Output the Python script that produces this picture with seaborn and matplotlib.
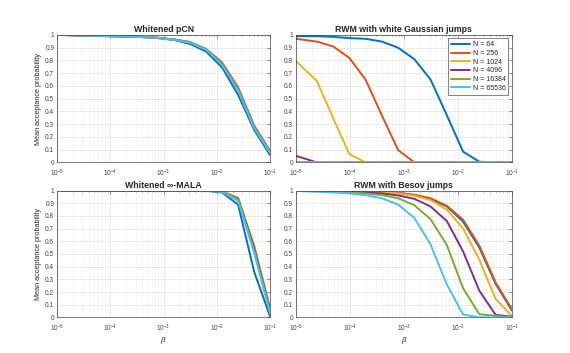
import numpy as np
import pandas as pd
import seaborn as sns
import matplotlib.pyplot as plt
from matplotlib.ticker import LogLocator, NullFormatter

# Schrittweiten beta = 0.1 / 2^k
betas = 0.1 / 2.0 ** np.arange(15)
dims = [64, 256, 1024, 4096, 16384, 65536]
colors = ["#0072BD", "#D95319", "#EDB120", "#7E2F8E", "#77AC30", "#4DBEEE"]
ytick_labels = ["0", "0.1", "0.2", "0.3", "0.4", "0.5", "0.6", "0.7", "0.8", "0.9", "1"]

# Whitened pCN (k = 0..13)
pcn = {
    64:    [0.057, 0.255, 0.53, 0.745, 0.87, 0.93, 0.96, 0.975, 0.983, 0.986, 0.99, 0.993, 0.996, 1.0],
    256:   [0.09, 0.29, 0.59, 0.785, 0.89, 0.945, 0.965, 0.978, 0.985, 0.99, 0.992, 0.995, 0.997, 1.0],
    1024:  [0.085, 0.285, 0.58, 0.78, 0.888, 0.944, 0.964, 0.977, 0.985, 0.989, 0.992, 0.995, 0.997, 1.0],
    4096:  [0.08, 0.28, 0.575, 0.775, 0.886, 0.942, 0.963, 0.977, 0.984, 0.988, 0.991, 0.994, 0.997, 1.0],
    16384: [0.078, 0.275, 0.57, 0.77, 0.885, 0.941, 0.962, 0.976, 0.984, 0.988, 0.991, 0.994, 0.997, 1.0],
    65536: [0.075, 0.27, 0.565, 0.765, 0.884, 0.94, 0.962, 0.976, 0.984, 0.988, 0.991, 0.994, 0.997, 1.0],
}

# RWM mit weissen Gauss-Spruengen (k = 0..14)
rwm_white = {
    64:    [0.0, 0.0, 0.005, 0.084, 0.37, 0.65, 0.81, 0.90, 0.948, 0.97, 0.975, 0.985, 0.99, 0.99, 0.995],
    256:   [0.0, 0.0, 0.0, 0.0, 0.0, 0.0, 0.0, 0.097, 0.37, 0.65, 0.82, 0.91, 0.948, 0.965, 0.98],
    1024:  [0.0, 0.0, 0.0, 0.0, 0.0, 0.0, 0.0, 0.0, 0.0, 0.0, 0.065, 0.35, 0.64, 0.76, 0.885],
    4096:  [0.0, 0.0, 0.0, 0.0, 0.0, 0.0, 0.0, 0.0, 0.0, 0.0, 0.0, 0.0, 0.0, 0.04, 0.08],
    16384: [0.0] * 15,
    65536: [0.0] * 15,
}

# Whitened infinity-MALA (k = 0..13)
mala = {
    64:    [0.005, 0.36, 0.89, 0.985, 1.0, 1.0, 1.0, 1.0, 1.0, 1.0, 1.0, 1.0, 1.0, 1.0],
    256:   [0.07, 0.56, 0.94, 0.995, 1.0, 1.0, 1.0, 1.0, 1.0, 1.0, 1.0, 1.0, 1.0, 1.0],
    1024:  [0.06, 0.57, 0.945, 0.995, 1.0, 1.0, 1.0, 1.0, 1.0, 1.0, 1.0, 1.0, 1.0, 1.0],
    4096:  [0.05, 0.55, 0.935, 0.99, 1.0, 1.0, 1.0, 1.0, 1.0, 1.0, 1.0, 1.0, 1.0, 1.0],
    16384: [0.04, 0.53, 0.93, 0.99, 1.0, 1.0, 1.0, 1.0, 1.0, 1.0, 1.0, 1.0, 1.0, 1.0],
    65536: [0.03, 0.51, 0.92, 0.99, 1.0, 1.0, 1.0, 1.0, 1.0, 1.0, 1.0, 1.0, 1.0, 1.0],
}

# RWM mit Besov-Spruengen (k = 0..13)
besov = {
    64:    [0.055, 0.265, 0.55, 0.755, 0.875, 0.935, 0.965, 0.98, 0.99, 0.993, 0.995, 0.997, 0.998, 0.999],
    256:   [0.065, 0.275, 0.565, 0.77, 0.88, 0.94, 0.968, 0.982, 0.99, 0.993, 0.995, 0.997, 0.998, 0.999],
    1024:  [0.01, 0.145, 0.455, 0.70, 0.85, 0.925, 0.96, 0.978, 0.988, 0.992, 0.995, 0.997, 0.998, 0.999],
    4096:  [0.005, 0.02, 0.21, 0.52, 0.76, 0.875, 0.935, 0.962, 0.978, 0.985, 0.99, 0.995, 0.997, 0.999],
    16384: [0.0, 0.012, 0.025, 0.23, 0.57, 0.775, 0.885, 0.94, 0.965, 0.978, 0.986, 0.99, 0.995, 0.998],
    65536: [0.0, 0.0, 0.0, 0.022, 0.26, 0.575, 0.785, 0.89, 0.94, 0.965, 0.978, 0.986, 0.992, 0.995],
}


def to_long(values):
    rows = []
    for n in dims:
        for b, v in zip(betas, values[n]):
            rows.append({"beta": b, "acc": v, "N": f"N = {n}"})
    return pd.DataFrame(rows)


sns.set_theme(style="white")
plt.rcParams["font.family"] = ["Liberation Sans", "DejaVu Sans"]
plt.rcParams["mathtext.fontset"] = "custom"
plt.rcParams["mathtext.rm"] = "Liberation Sans"
plt.rcParams["mathtext.it"] = "Liberation Sans:italic"

fig = plt.figure(figsize=(5.7, 3.53), dpi=100)
positions = [
    [0.100, 0.540, 0.374, 0.361],
    [0.519, 0.540, 0.379, 0.361],
    [0.100, 0.101, 0.374, 0.359],
    [0.519, 0.101, 0.379, 0.359],
]
panels = [
    ("Whitened pCN", pcn),
    ("RWM with white Gaussian jumps", rwm_white),
    ("Whitened \u221e-MALA", mala),
    ("RWM with Besov jumps", besov),
]
hue_order = [f"N = {n}" for n in dims]

for i, ((title, vals), pos) in enumerate(zip(panels, positions)):
    ax = fig.add_axes(pos)
    df = to_long(vals)
    sns.lineplot(data=df, x="beta", y="acc", hue="N", hue_order=hue_order,
                 palette=colors, linewidth=1.4, ax=ax, legend=(i == 1))
    ax.set_xscale("log")
    ax.set_xlim(1e-5, 1e-1)
    ax.set_ylim(0, 1)
    ax.set_yticks(np.linspace(0, 1, 11))
    ax.set_yticklabels(ytick_labels)
    ax.xaxis.set_major_locator(LogLocator(base=10, numticks=10))
    ax.xaxis.set_minor_locator(LogLocator(base=10, subs=np.arange(2, 10), numticks=10))
    ax.xaxis.set_minor_formatter(NullFormatter())
    ax.grid(True, which="major", color="#e0e0e0", linewidth=0.5)
    ax.grid(True, which="minor", axis="x", color="#e0e0e0", linewidth=0.5, linestyle=":")
    ax.set_axisbelow(True)
    ax.tick_params(which="both", direction="in", labelsize=4.7, length=2, width=0.4,
                   colors="#404040", top=True, right=True, pad=2)
    ax.tick_params(axis="x", which="both", pad=3.5)
    ax.tick_params(which="minor", length=1)
    for sp in ax.spines.values():
        sp.set_color("#404040")
        sp.set_linewidth(0.5)
    ax.set_title(title, fontsize=6.3, fontweight="bold", pad=2)
    if i % 2 == 0:
        ax.set_ylabel("Mean acceptance probability", fontsize=5.2, labelpad=2)
    else:
        ax.set_ylabel("")
    if i >= 2:
        ax.set_xlabel(r"$\it{\beta}$", fontsize=5.8, labelpad=1)
    else:
        ax.set_xlabel("")
    if i == 1:
        leg = ax.legend(loc="upper right", fontsize=5, frameon=True, fancybox=False,
                        edgecolor="#262626", handlelength=2.8, borderpad=0.4,
                        labelspacing=0.25, handletextpad=0.4)
        leg.get_frame().set_linewidth(0.5)
        for line in leg.get_lines():
            line.set_linewidth(1.4)

fig.savefig("out.png", dpi=100)
